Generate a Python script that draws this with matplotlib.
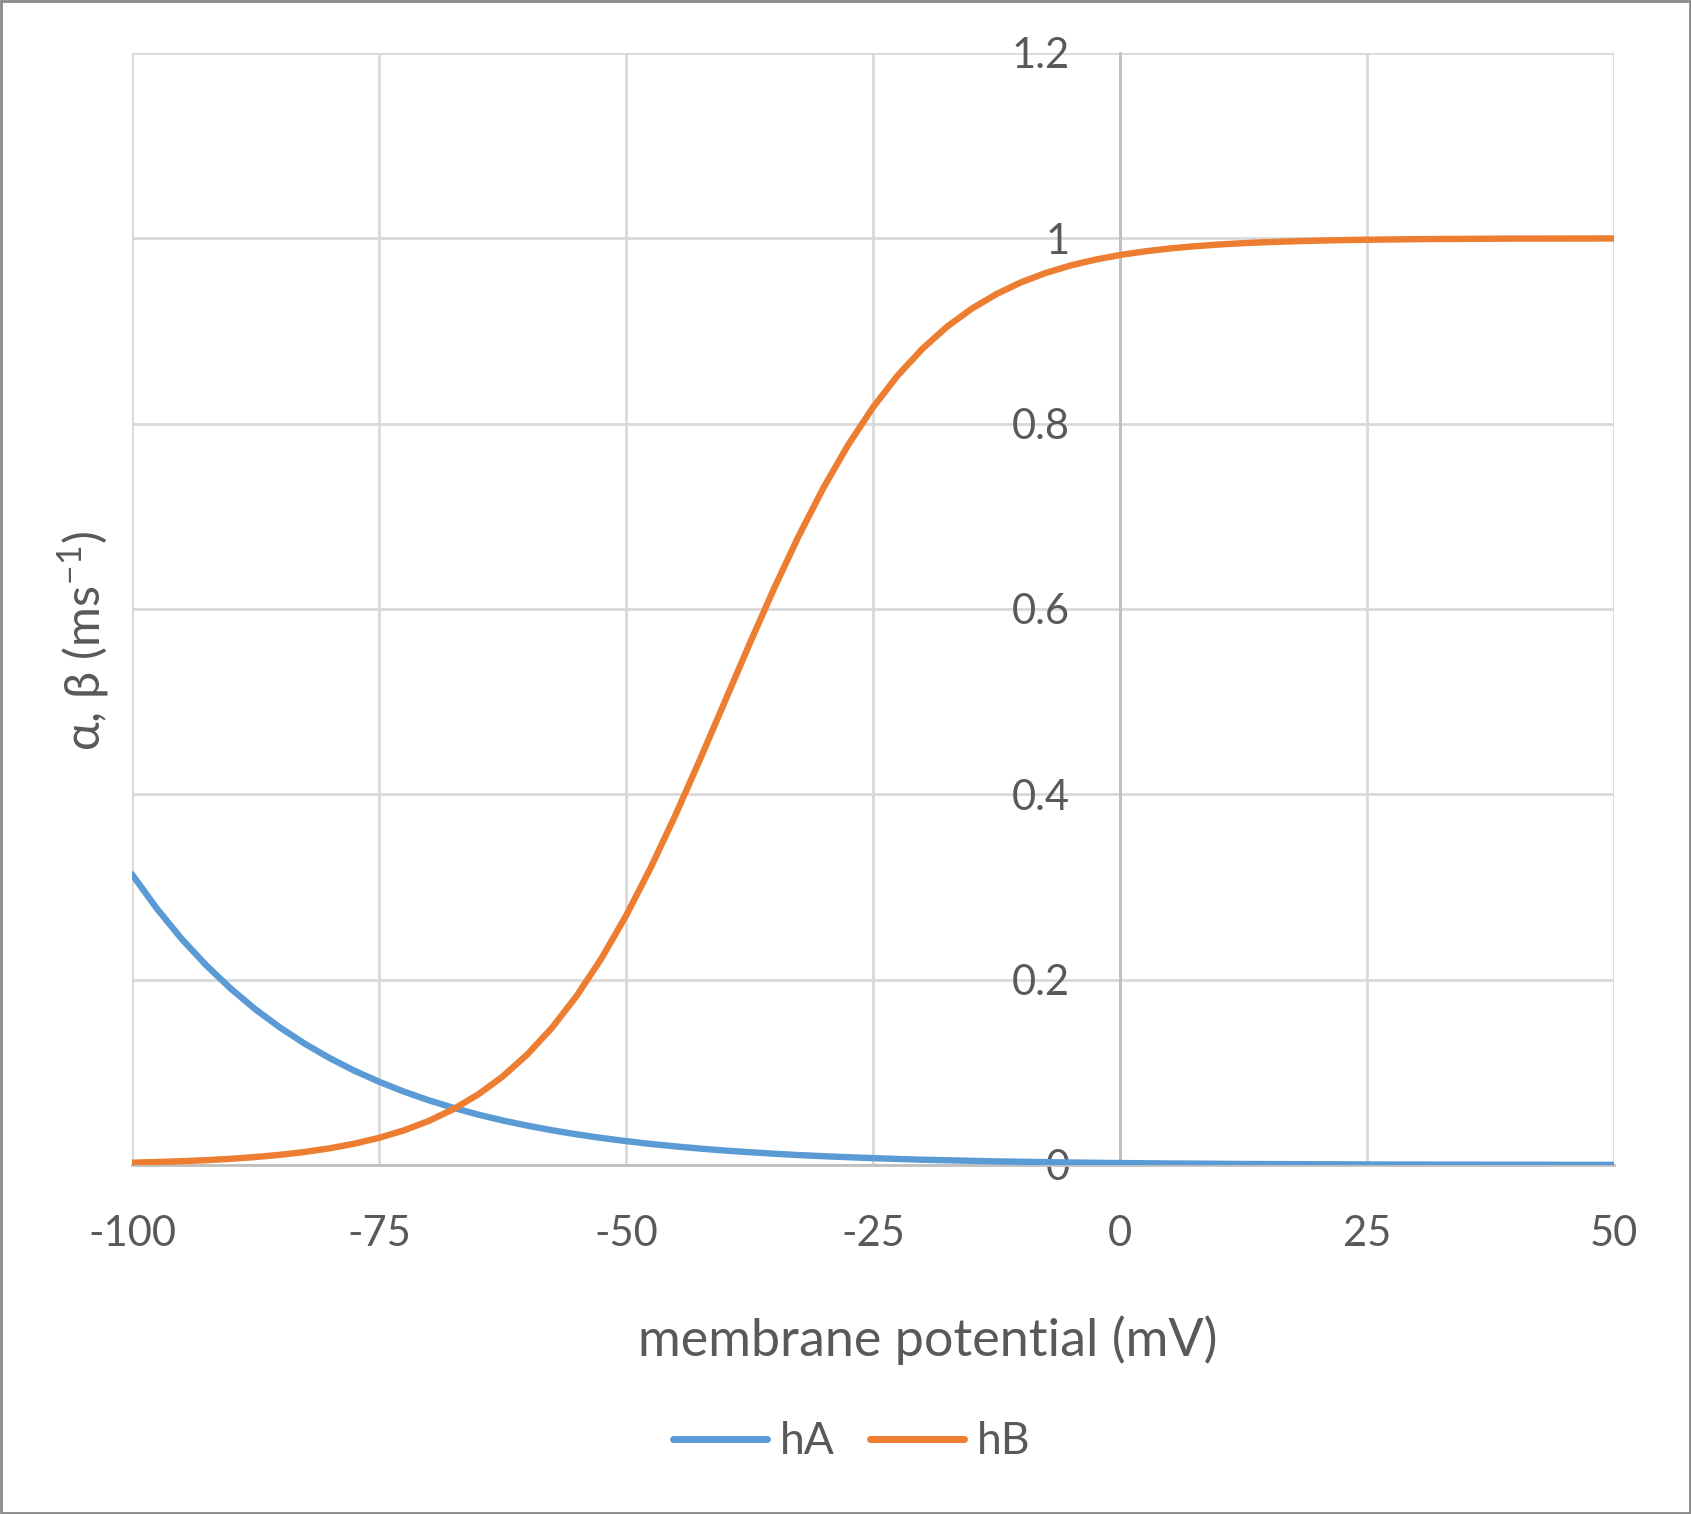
import matplotlib
matplotlib.use("Agg")
import matplotlib.pyplot as plt
from matplotlib.patches import Rectangle

plt.rcParams['font.family'] = ['Lato', 'DejaVu Sans']
plt.rcParams['mathtext.fontset'] = 'custom'
plt.rcParams['mathtext.rm'] = 'Lato'

voltage = [-100, -97.5, -95, -92.5, -90, -87.5, -85, -82.5, -80, -77.5, -75, -72.5, -70, -67.5,
           -65, -62.5, -60, -57.5, -55, -52.5, -50, -47.5, -45, -42.5, -40, -37.5, -35, -32.5,
           -30, -27.5, -25, -22.5, -20, -17.5, -15, -12.5, -10, -7.5, -5, -2.5, 0, 2.5, 5, 7.5,
           10, 12.5, 15, 17.5, 20, 22.5, 25, 27.5, 30, 32.5, 35, 37.5, 40, 42.5, 45, 47.5, 50]
hA = [0.3137, 0.2769, 0.2443, 0.2156, 0.1903, 0.1679, 0.1482, 0.1308, 0.1154, 0.1018, 0.0899,
      0.0793, 0.0700, 0.0618, 0.0545, 0.0481, 0.0425, 0.0375, 0.0331, 0.0292, 0.0258, 0.0227,
      0.0201, 0.0177, 0.0156, 0.0138, 0.0122, 0.0107, 0.0095, 0.0084, 0.0074, 0.0065, 0.0057,
      0.0051, 0.0045, 0.0039, 0.0035, 0.0031, 0.0027, 0.0024, 0.0021, 0.0019, 0.0016, 0.0015,
      0.0013, 0.0011, 0.0010, 0.0009, 0.0008, 0.0007, 0.0006, 0.0005, 0.0005, 0.0004, 0.0004,
      0.0003, 0.0003, 0.0003, 0.0002, 0.0002, 0.0002]
hB = [0.0025, 0.0032, 0.0041, 0.0052, 0.0067, 0.0086, 0.0110, 0.0141, 0.0180, 0.0230, 0.0293,
      0.0373, 0.0474, 0.0601, 0.0759, 0.0953, 0.1192, 0.1480, 0.1824, 0.2227, 0.2689, 0.3208,
      0.3775, 0.4378, 0.5000, 0.5622, 0.6225, 0.6792, 0.7311, 0.7773, 0.8176, 0.8520, 0.8808,
      0.9047, 0.9241, 0.9399, 0.9526, 0.9627, 0.9707, 0.9770, 0.9820, 0.9859, 0.9890, 0.9914,
      0.9933, 0.9948, 0.9959, 0.9968, 0.9975, 0.9981, 0.9985, 0.9988, 0.9991, 0.9993, 0.9994,
      0.9996, 0.9997, 0.9997, 0.9998, 0.9998, 0.9999]

x_ticks = [-100, -75, -50, -25, 0, 25, 50]
y_ticks = [0, 0.2, 0.4, 0.6, 0.8, 1.0, 1.2]
y_tick_labels = ['0', '0.2', '0.4', '0.6', '0.8', '1', '1.2']

TEXT = '#595959'
GRID = '#D9D9D9'
AXIS = '#BFBFBF'

fig = plt.figure(figsize=(16.91, 15.14), dpi=100)
ax = fig.add_axes([132 / 1691, 1 - 1165 / 1514, (1614 - 132) / 1691, (1165 - 53) / 1514])

ax.plot(voltage, hA, color='#5B9BD5', lw=4.6, label='hA', solid_capstyle='round',
        solid_joinstyle='round', zorder=3)
ax.plot(voltage, hB, color='#ED7D31', lw=4.6, label='hB', solid_capstyle='round',
        solid_joinstyle='round', zorder=3)

ax.set_xlim(-100, 50)
ax.set_ylim(0, 1.2)
ax.set_xticks(x_ticks)
ax.set_xticklabels([str(v) for v in x_ticks])
ax.set_yticks(y_ticks)
ax.set_yticklabels(y_tick_labels)
ax.grid(True, color=GRID, lw=2, zorder=0)
ax.set_axisbelow(True)

for s in ['top', 'right']:
    ax.spines[s].set_visible(False)
ax.spines['left'].set_position(('data', 0))
ax.spines['left'].set_color(AXIS)
ax.spines['left'].set_linewidth(2)
ax.spines['bottom'].set_color(AXIS)
ax.spines['bottom'].set_linewidth(2)
ax.spines['left'].set_zorder(1)
ax.spines['bottom'].set_zorder(1)

ax.tick_params(axis='both', length=0, labelsize=30, labelcolor=TEXT)
ax.tick_params(axis='x', pad=36)
ax.tick_params(axis='y', pad=36)

fig.text(928 / 1691, 1 - 1340 / 1514, 'membrane potential (mV)', ha='center', va='center',
         fontsize=37.5, color=TEXT)
fig.text(84 / 1691, 1 - 641 / 1514, 'α, β (ms$^{\\mathregular{-1}}$)', rotation=90,
         ha='center', va='center', fontsize=35, color=TEXT)

leg = fig.legend(loc='center', bbox_to_anchor=(852 / 1691, 1 - 1442 / 1514), ncol=2,
                 frameon=False, fontsize=32, labelcolor=TEXT, handlelength=2.1,
                 handletextpad=0.3, columnspacing=0.8)
for line in leg.get_lines():
    line.set_linewidth(5)

fig.patches.append(Rectangle((0.0006, 0.0006), 0.9988, 0.9988, transform=fig.transFigure,
                             fill=False, edgecolor='#898989', lw=2))

fig.savefig('out.png', dpi=100, facecolor='white')
